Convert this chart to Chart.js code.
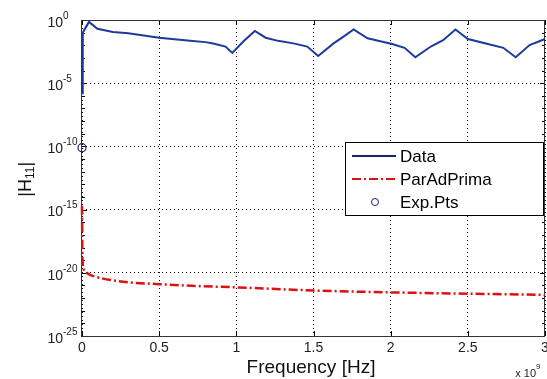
<!DOCTYPE html>
<html>
<head>
<meta charset="utf-8">
<script src="https://cdn.jsdelivr.net/npm/chart.js@4/dist/chart.umd.min.js"></script>
<style>
  html, body { margin: 0; padding: 0; background: #fff; }
  #wrap { width: 547px; height: 379px; position: relative; }
</style>
</head>
<body>
<div id="wrap"><canvas id="h11Chart"></canvas></div>
<script>
// frequency in units of 1e9 Hz, magnitudes as log10 exponents
const dataFreq = [0, 0.005, 0.045, 0.1, 0.2, 0.3, 0.5, 0.7, 0.8, 0.85, 0.93, 0.974, 1.045, 1.12, 1.19, 1.27, 1.37, 1.46, 1.53, 1.63, 1.69, 1.76, 1.85, 1.94, 2.01, 2.09, 2.16, 2.26, 2.34, 2.42, 2.5, 2.63, 2.73, 2.81, 2.9, 3.0];
const dataLog = [-5.8, -1.0, -0.15, -0.7, -0.95, -1.05, -1.4, -1.65, -1.75, -1.86, -2.1, -2.6, -1.7, -0.87, -1.4, -1.65, -1.85, -2.1, -2.85, -1.85, -1.35, -0.75, -1.45, -1.7, -1.9, -2.2, -2.95, -2.1, -1.6, -0.75, -1.5, -1.9, -2.2, -2.95, -1.98, -1.5];

const fitFreq = [0, 0.002, 0.005, 0.01, 0.03, 0.06, 0.1, 0.2, 0.3, 0.5, 0.75, 1.0, 1.5, 2.0, 2.5, 3.0];
const fitLog = [-14.7, -18.0, -19.3, -19.7, -20.0, -20.2, -20.35, -20.6, -20.75, -20.9, -21.05, -21.15, -21.4, -21.55, -21.65, -21.75];

const expFreq = [0];
const expLog = [-10.1];

const xTicks = [0, 0.5, 1, 1.5, 2, 2.5, 3];
const yTickExp = [-25, -20, -15, -10, -5, 0];

const legendLabels = ['Data', 'ParAdPrima', 'Exp.Pts'];

const blue = '#1d3a9c';
const red = '#dd1111';
const navy = '#1a2470';
const FONT = 'Arial, "Liberation Sans", sans-serif';

function toPoints(freqs, logs) {
  return freqs.map((f, i) => ({ x: f * 1e9, y: Math.pow(10, logs[i]) }));
}

const sup = (ctx, base, exp, x, y, size) => {
  ctx.font = `${size}px ${FONT}`;
  ctx.textAlign = 'right';
  ctx.textBaseline = 'middle';
  ctx.fillText(base, x, y + 3);
  ctx.font = `${Math.round(size * 0.72)}px ${FONT}`;
  ctx.textAlign = 'left';
  ctx.fillText(exp, x, y - 4);
};

const decorPlugin = {
  id: 'decor',
  beforeDatasetsDraw(chart) {
    const ctx = chart.ctx;
    const area = chart.chartArea;
    const xs = chart.scales.x;
    const ys = chart.scales.y;
    ctx.save();

    // tick marks (inward), minor ones every decade
    ctx.strokeStyle = '#000';
    ctx.lineWidth = 1;
    ctx.beginPath();
    for (let e = -25; e <= 0; e++) {
      const py = Math.round(ys.getPixelForValue(Math.pow(10, e))) + 0.5;
      const len = e % 5 === 0 ? 5 : 3;
      ctx.moveTo(area.left, py); ctx.lineTo(area.left + len, py);
      ctx.moveTo(area.right, py); ctx.lineTo(area.right - len, py);
    }
    xTicks.forEach(t => {
      const px = Math.round(xs.getPixelForValue(t * 1e9)) + 0.5;
      ctx.moveTo(px, area.bottom); ctx.lineTo(px, area.bottom - 5);
      ctx.moveTo(px, area.top); ctx.lineTo(px, area.top + 5);
    });
    ctx.stroke();

    // box
    ctx.strokeStyle = '#333';
    ctx.strokeRect(Math.round(area.left) - 0.5, Math.round(area.top) + 0.5,
      Math.round(area.right - area.left), Math.round(area.bottom - area.top));
    ctx.restore();
  },
  afterDraw(chart) {
    const ctx = chart.ctx;
    const ys = chart.scales.y;
    ctx.save();

    // y tick labels 10^n
    ctx.fillStyle = '#222';
    yTickExp.forEach(e => {
      const py = ys.getPixelForValue(Math.pow(10, e));
      sup(ctx, '10', e === 0 ? '0' : '-' + Math.abs(e), 63, py, 14);
    });

    // x10^9 multiplier
    sup(ctx, 'x 10', '9', 536, 371, 11);

    // axis titles
    ctx.fillStyle = '#111';
    ctx.font = `19px ${FONT}`;
    ctx.textAlign = 'center';
    ctx.textBaseline = 'middle';
    ctx.fillText('Frequency [Hz]', 311, 368);

    ctx.save();
    ctx.translate(26, 182);
    ctx.rotate(-Math.PI / 2);
    ctx.font = `18px ${FONT}`;
    ctx.textAlign = 'right';
    ctx.fillText('|H', 3, 0);
    ctx.font = `12px ${FONT}`;
    ctx.textAlign = 'left';
    ctx.fillText('11', 3, 5);
    const w = ctx.measureText('11').width;
    ctx.font = `18px ${FONT}`;
    ctx.fillText('|', 3 + w, 0);
    ctx.restore();

    // legend box
    const lx = 345, ly = 142, lw = 198, lh = 73;
    ctx.fillStyle = '#fff';
    ctx.fillRect(lx, ly, lw, lh);
    ctx.strokeStyle = '#000';
    ctx.lineWidth = 1;
    ctx.strokeRect(lx + 0.5, ly + 0.5, lw, lh);
    const rows = [156, 179, 202];
    ctx.lineWidth = 2;
    ctx.strokeStyle = navy;
    ctx.beginPath(); ctx.moveTo(352, rows[0]); ctx.lineTo(396, rows[0]); ctx.stroke();
    ctx.strokeStyle = red;
    ctx.setLineDash([9, 3, 2, 3]);
    ctx.beginPath(); ctx.moveTo(352, rows[1]); ctx.lineTo(396, rows[1]); ctx.stroke();
    ctx.setLineDash([]);
    ctx.lineWidth = 1;
    ctx.strokeStyle = navy;
    ctx.beginPath(); ctx.arc(375, rows[2], 3.5, 0, Math.PI * 2); ctx.stroke();
    ctx.fillStyle = '#000';
    ctx.font = `17px ${FONT}`;
    ctx.textAlign = 'left';
    ctx.textBaseline = 'middle';
    legendLabels.forEach((t, i) => ctx.fillText(t, 400, rows[i] + 1));

    ctx.restore();
  }
};

new Chart(document.getElementById('h11Chart'), {
  type: 'line',
  data: {
    datasets: [
      {
        label: legendLabels[0],
        data: toPoints(dataFreq, dataLog),
        borderColor: blue,
        borderWidth: 2,
        pointRadius: 0,
        tension: 0,
        fill: false,
        clip: 4,
      },
      {
        label: legendLabels[1],
        data: toPoints(fitFreq, fitLog),
        borderColor: red,
        borderWidth: 2.5,
        borderDash: [9, 3, 2, 3],
        pointRadius: 0,
        cubicInterpolationMode: 'monotone',
        fill: false,
        clip: 4,
      },
      {
        label: legendLabels[2],
        data: toPoints(expFreq, expLog),
        showLine: false,
        pointRadius: 4,
        pointBorderWidth: 1.2,
        pointBorderColor: navy,
        pointBackgroundColor: 'rgba(0,0,0,0)',
        clip: 6,
      },
    ],
  },
  options: {
    responsive: true,
    maintainAspectRatio: false,
    animation: false,
    layout: { autoPadding: false, padding: { left: 0, right: 2, top: 20, bottom: 0 } },
    plugins: {
      legend: { display: false },
      tooltip: { enabled: false },
    },
    scales: {
      x: {
        type: 'linear',
        min: 0,
        max: 3e9,
        afterBuildTicks: (scale) => {
          scale.ticks = xTicks.map(t => ({ value: t * 1e9 }));
        },
        afterFit: (scale) => {
          scale.height = 43;
          scale.paddingLeft = 0;
          scale.paddingRight = 0;
        },
        ticks: {
          color: '#222',
          font: { size: 14, family: FONT },
          padding: 4,
          maxRotation: 0,
          callback: (v) => String(v / 1e9),
        },
        grid: { color: '#000', lineWidth: 1, drawTicks: false },
        border: { display: false, dash: [1, 3] },
      },
      y: {
        type: 'logarithmic',
        min: 1e-25,
        max: 1,
        afterBuildTicks: (scale) => {
          scale.ticks = yTickExp.map(e => ({ value: Math.pow(10, e) }));
        },
        afterFit: (scale) => {
          scale.width = 82;
          scale.paddingTop = 0;
          scale.paddingBottom = 0;
        },
        ticks: { display: false },
        grid: { color: '#000', lineWidth: 1, drawTicks: false },
        border: { display: false, dash: [1, 3] },
      },
    },
  },
  plugins: [decorPlugin],
});
</script>
</body>
</html>
